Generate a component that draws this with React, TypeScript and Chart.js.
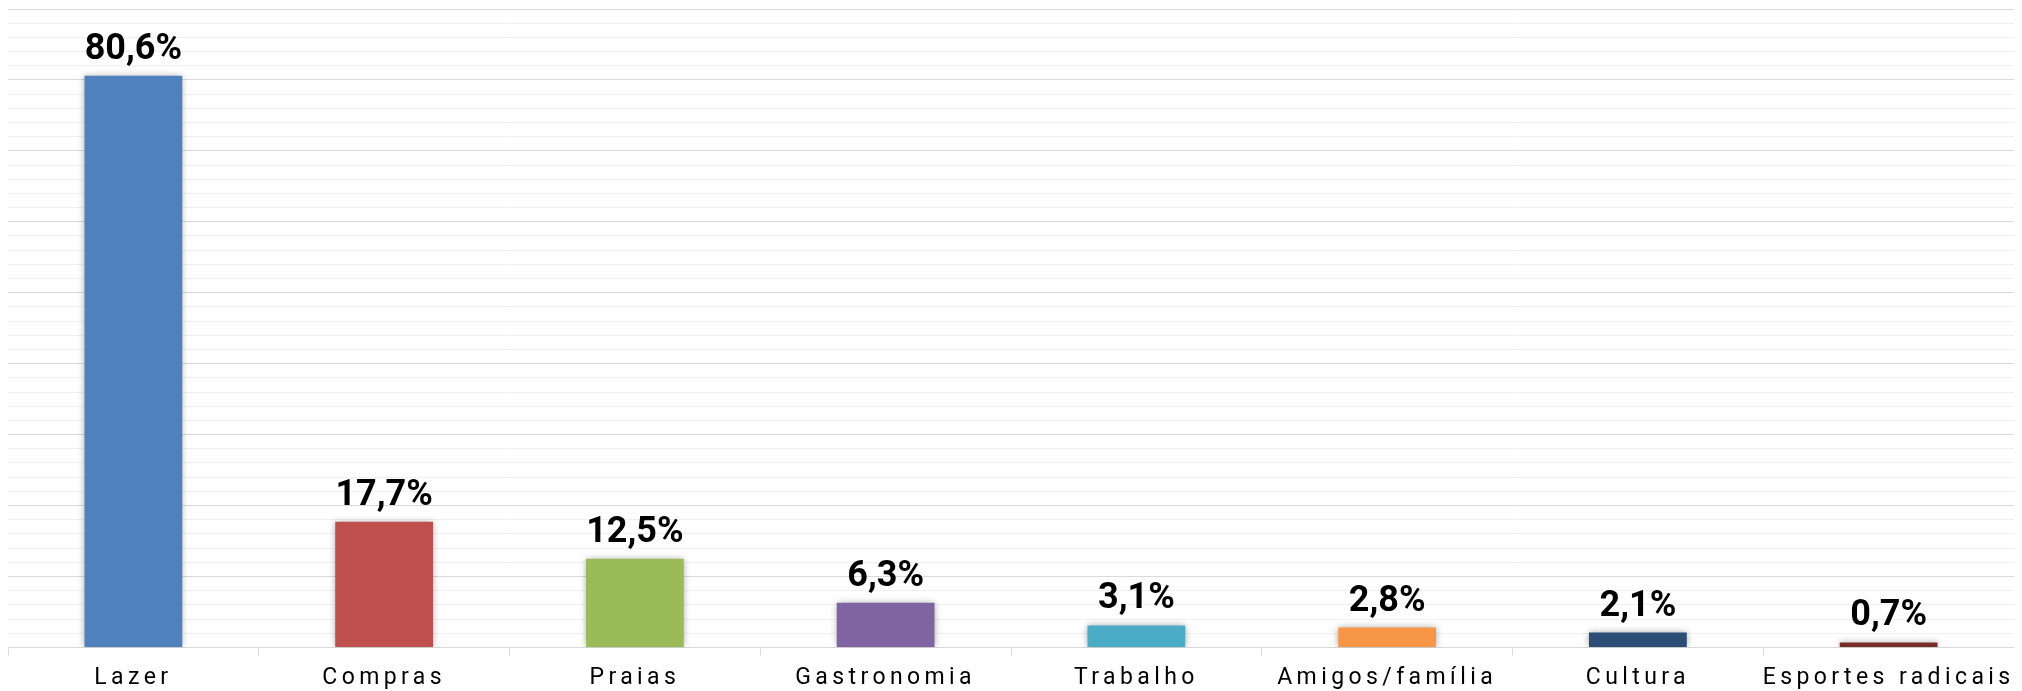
import React, { useEffect, useRef } from 'react';
import { Chart, registerables } from 'chart.js';

Chart.register(...registerables);

const categories = [
  'Lazer',
  'Compras',
  'Praias',
  'Gastronomia',
  'Trabalho',
  'Amigos/família',
  'Cultura',
  'Esportes radicais',
];
const values = [80.6, 17.7, 12.5, 6.3, 3.1, 2.8, 2.1, 0.7];
const barColors = [
  '#4F81BD',
  '#C0504D',
  '#9BBB59',
  '#8064A2',
  '#4BACC6',
  '#F79646',
  '#2C4D75',
  '#772C2A',
];
const yMax = 90;
const yStep = 2;
const majorStep = 10;

const fmt = (v: number) => v.toFixed(1).replace('.', ',') + '%';

const spacingPlugin = {
  id: 'spacing',
  beforeDraw(chart: any) {
    (chart.ctx as any).letterSpacing = '4.4px';
  },
  beforeDatasetsDraw(chart: any) {
    (chart.ctx as any).letterSpacing = '0px';
  },
};

const shadowPlugin = {
  id: 'barShadow',
  beforeDatasetDraw(chart: any) {
    const ctx = chart.ctx;
    ctx.save();
    ctx.shadowColor = 'rgba(0,0,0,0.35)';
    ctx.shadowBlur = 7;
    ctx.shadowOffsetX = 0;
    ctx.shadowOffsetY = 0;
  },
  afterDatasetDraw(chart: any) {
    chart.ctx.restore();
  },
};

const valueLabelPlugin = {
  id: 'valueLabels',
  afterDatasetsDraw(chart: any) {
    const ctx = chart.ctx;
    const meta = chart.getDatasetMeta(0);
    ctx.save();
    (ctx as any).letterSpacing = '0px';
    ctx.font = 'bold 36px Roboto';
    ctx.fillStyle = '#000000';
    ctx.textAlign = 'center';
    ctx.textBaseline = 'alphabetic';
    meta.data.forEach((bar: any, i: number) => {
      ctx.fillText(fmt(values[i]), bar.x, bar.y - 17);
    });
    ctx.restore();
  },
};

export default function App() {
  const ref = useRef<HTMLCanvasElement | null>(null);

  useEffect(() => {
    if (!ref.current) return;
    const chart = new Chart(ref.current, {
      type: 'bar',
      data: {
        labels: categories,
        datasets: [
          {
            data: values,
            backgroundColor: barColors,
            borderWidth: 0,
            categoryPercentage: 1,
            barPercentage: 0.39,
          },
        ],
      },
      options: {
        animation: false,
        responsive: true,
        maintainAspectRatio: false,
        layout: { padding: { top: 1, left: 0, right: 0, bottom: 5 } },
        plugins: {
          legend: { display: false },
          tooltip: { enabled: false },
        },
        scales: {
          x: {
            grid: {
              display: true,
              offset: true,
              drawOnChartArea: false,
              drawTicks: true,
              tickLength: 8,
              color: '#d9d9d9',
              lineWidth: 1,
            },
            border: { display: true, color: '#d9d9d9', width: 1 },
            ticks: {
              color: '#000000',
              font: { family: 'Roboto', size: 23 },
              padding: 9,
              autoSkip: false,
              maxRotation: 0,
            },
          },
          y: {
            min: 0,
            max: yMax,
            ticks: { display: false, stepSize: yStep },
            border: { display: false },
            grid: {
              drawTicks: false,
              color: (ctx: any) =>
                ctx.tick && ctx.tick.value % majorStep === 0 ? '#d9d9d9' : '#f0f0f0',
              lineWidth: 1,
            },
          },
        },
      },
      plugins: [spacingPlugin, shadowPlugin, valueLabelPlugin],
    });
    return () => chart.destroy();
  }, []);

  return (
    <div style={{ width: '100%', height: '698px', position: 'relative' }}>
      <canvas ref={ref} />
    </div>
  );
}
